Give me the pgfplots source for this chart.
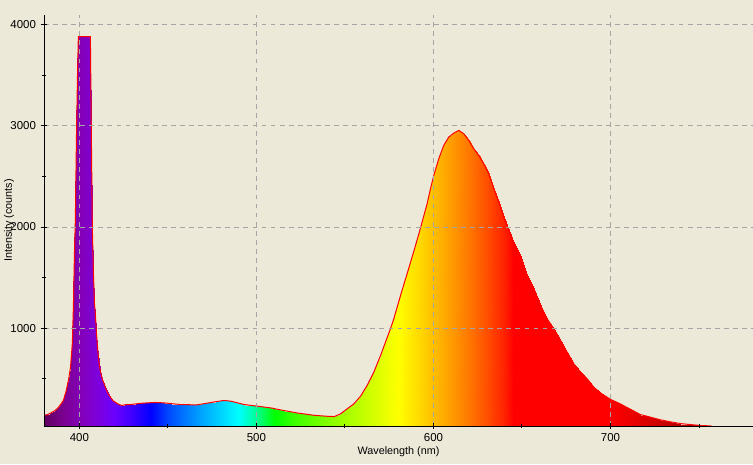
\documentclass[border=0pt]{standalone}
\usepackage{pgfplots}
\usepackage{pgfplotstable}
\pgfplotsset{compat=1.18}
\usepackage{fontspec}
\setmainfont{Liberation Sans}
\definecolor{bgc}{RGB}{236,233,216}
\definecolor{gridc}{RGB}{165,165,165}

\pgfplotstableread{
x y
380 140
382 148
384 165
386 185
388 215
389.5 250
391 290
392.5 380
394 504
395 620
396 850
396.6 1208
397.2 1739
397.7 2065
398.3 2849
398.9 3475
399.4 3880
406.2 3880
406.8 2829
407.3 2000
407.9 1555
408.5 1245
409.0 1146
409.6 961
410.2 820
410.9 680
411.8 580
412.8 504
414.7 418
416.0 360
417.5 320
419.0 285
420.3 270
422 250
424 237
426 245
429 247
434 258
438 263
443 268
448 263
452 256
457 247
462 245
466.5 244
472 260
477 275
481.5 287
485.3 281
489 265
493 247
500.4 231
508 214
515.4 188
523 164
532.4 141
540 131
544 128
547.5 155
551.2 204
555 253
558.8 329
562.5 435
566.3 566
570.1 731
573.8 906
575.7 995
577.6 1094
581.4 1324
585.1 1538
588.9 1760
592.7 1992
596.4 2229
598.3 2378
600.2 2510
603 2675
605.8 2806
608.6 2888
611.5 2928
614.3 2954
617.1 2922
619.9 2856
622.8 2773
625.6 2707
628.4 2625
631.2 2526
634.1 2378
636.9 2246
639.7 2098
642.5 1966
645.4 1840
649.2 1703
652.9 1522
656.7 1390
660.5 1225
664.2 1094
668 995
671.8 879
675.5 764
679.3 648
683.1 566
686.8 501
690.6 418
694.4 360
700 298
705.6 253
711.3 199
716.9 148
722.6 122
728.2 96
733.9 76
739.5 59
745.2 49
750.8 40
755 37
757 35
}\spec

\pgfplotstablegetrowsof{\spec}
\pgfmathtruncatemacro{\nrows}{\pgfplotsretval}
\pgfplotstablenew[
  create on use/x/.style={create col/copy column from table={\spec}{x}},
  create on use/y/.style={create col/set=0},
  columns={x,y}
]{\nrows}\basetab
\pgfplotstablevertcat{\meshtab}{\basetab}
\pgfplotstablevertcat{\meshtab}{\spec}

\begin{document}
\begin{tikzpicture}
\path[use as bounding box, fill=bgc] (-33pt,-28.5pt) rectangle (531.75pt,319.5pt);
\begin{axis}[
  at={(0,0)}, anchor=south west,
  scale only axis, width=531.75pt, height=308.25pt,
  xmin=380, xmax=780.5, ymin=35, ymax=4094,
  axis x line=bottom, axis y line=left,
  axis line style={-, black, line width=0.75pt},
  xtick={400,500,600,700}, ytick={1000,2000,3000,4000},
  minor xtick={450,550,650,750}, minor ytick={500,1500,2500,3500},
  tick align=center,
  major tick length=4.5pt, minor tick length=3pt,
  tick style={black, line width=0.75pt},
  grid=major,
  major grid style={gridc, line width=0.75pt, dash pattern=on 3.6pt off 3.2pt},
  minor grid style={draw=none},
  axis on top,
  xticklabel style={font=\fontsize{8.6}{10}\selectfont},
  yticklabel style={font=\fontsize{8.6}{10}\selectfont, xshift=-0.3pt},
  xlabel={Wavelength (nm)}, ylabel={Intensity (counts)},
  every axis x label/.style={at={(axis description cs:0.5,-0.0633)}, anchor=center, font=\fontsize{8.1}{9.5}\selectfont},
  every axis y label/.style={at={(axis description cs:-0.0494,0.5)}, rotate=90, anchor=center, font=\fontsize{8.1}{9.5}\selectfont},
  /pgf/number format/1000 sep={},
  /pgf/number format/assume math mode=true,
  colormap={spectrum}{
    rgb255(0pt)=(97,0,97)
    rgb255(10pt)=(121,0,140)
    rgb255(20pt)=(131,0,181)
    rgb255(30pt)=(126,0,219)
    rgb255(40pt)=(106,0,255)
    rgb255(50pt)=(61,0,255)
    rgb255(60pt)=(0,0,255)
    rgb255(70pt)=(0,70,255)
    rgb255(80pt)=(0,123,255)
    rgb255(90pt)=(0,169,255)
    rgb255(100pt)=(0,213,255)
    rgb255(110pt)=(0,255,255)
    rgb255(120pt)=(0,255,146)
    rgb255(130pt)=(0,255,0)
    rgb255(140pt)=(54,255,0)
    rgb255(150pt)=(94,255,0)
    rgb255(160pt)=(129,255,0)
    rgb255(170pt)=(163,255,0)
    rgb255(180pt)=(195,255,0)
    rgb255(190pt)=(225,255,0)
    rgb255(200pt)=(255,255,0)
    rgb255(210pt)=(255,223,0)
    rgb255(220pt)=(255,190,0)
    rgb255(230pt)=(255,155,0)
    rgb255(240pt)=(255,119,0)
    rgb255(250pt)=(255,79,0)
    rgb255(260pt)=(255,33,0)
    rgb255(265pt)=(255,0,0)
    rgb255(320pt)=(255,0,0)
    rgb255(330pt)=(237,0,0)
    rgb255(340pt)=(219,0,0)
    rgb255(350pt)=(200,0,0)
    rgb255(360pt)=(181,0,0)
    rgb255(370pt)=(161,0,0)
    rgb255(380pt)=(140,0,0)
    rgb255(400pt)=(97,0,0)
  },
  point meta min=380, point meta max=780,
]
\addplot[surf, shader=interp, mesh/rows=2, point meta=x] table {\meshtab};
\addplot[red, line width=0.75pt] table {\spec};
\end{axis}
\end{tikzpicture}
\end{document}
